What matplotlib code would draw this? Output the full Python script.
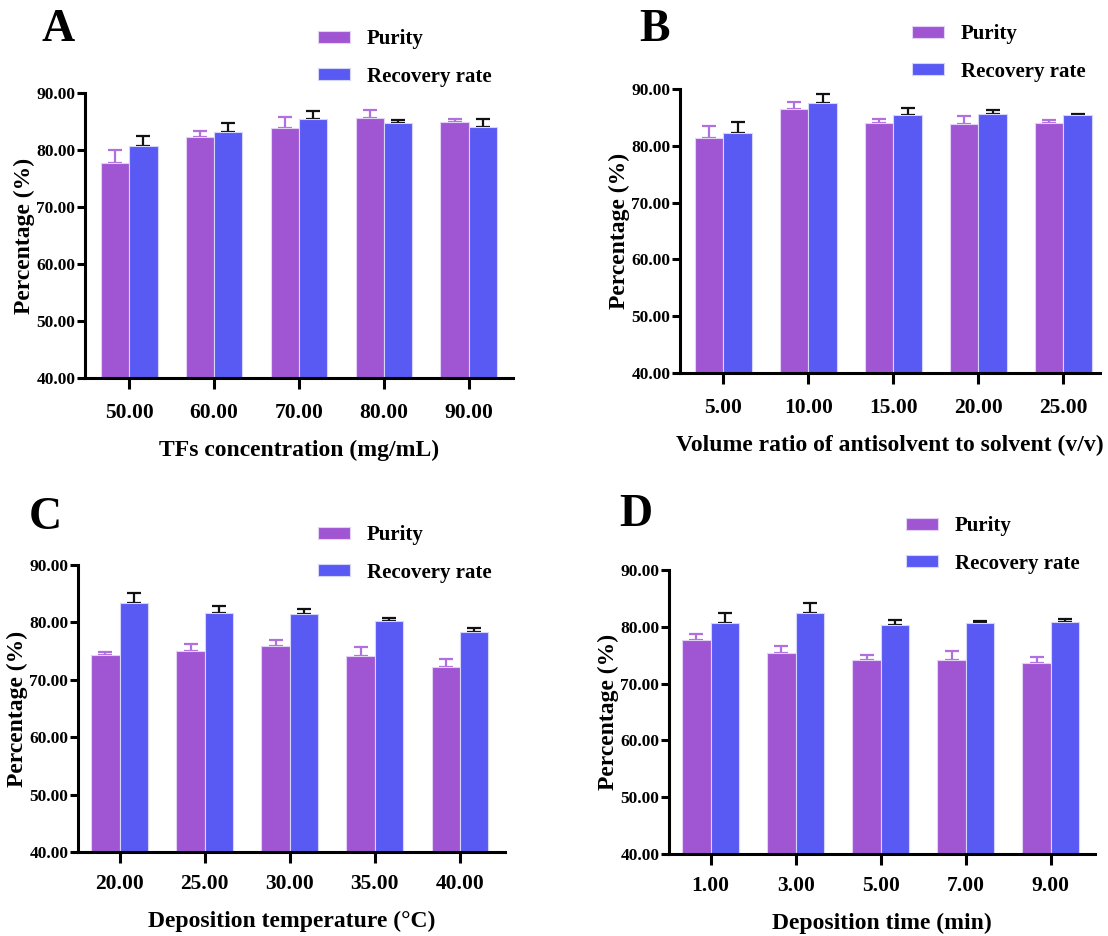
import matplotlib
matplotlib.use("Agg")
import matplotlib.pyplot as plt
import numpy as np

plt.rcParams['font.family'] = ['Liberation Serif', 'DejaVu Serif']
plt.rcParams['font.weight'] = 'bold'

# ---- data ----
a_labels = ["50.00", "60.00", "70.00", "80.00", "90.00"]
a_purity = [77.8, 82.2, 83.8, 85.7, 84.9]
a_purity_err = [2.2, 1.1, 2.0, 1.4, 0.5]
a_recovery = [80.7, 83.2, 85.4, 84.7, 84.0]
a_recovery_err = [1.8, 1.6, 1.5, 0.5, 1.5]

b_labels = ["5.00", "10.00", "15.00", "20.00", "25.00"]
b_purity = [81.3, 86.4, 84.1, 83.9, 84.0]
b_purity_err = [2.1, 1.3, 0.6, 1.35, 0.5]
b_recovery = [82.3, 87.6, 85.5, 85.6, 85.4]
b_recovery_err = [1.9, 1.5, 1.1, 0.65, 0.25]

c_labels = ["20.00", "25.00", "30.00", "35.00", "40.00"]
c_purity = [74.3, 75.1, 75.9, 74.1, 72.2]
c_purity_err = [0.5, 1.1, 0.95, 1.6, 1.4]
c_recovery = [83.4, 81.7, 81.4, 80.2, 78.3]
c_recovery_err = [1.7, 1.2, 0.95, 0.5, 0.7]

d_labels = ["1.00", "3.00", "5.00", "7.00", "9.00"]
d_purity = [77.6, 75.4, 74.1, 74.2, 73.6]
d_purity_err = [1.1, 1.2, 0.95, 1.5, 1.1]
d_recovery = [80.6, 82.4, 80.3, 80.6, 80.9]
d_recovery_err = [1.8, 1.8, 0.9, 0.35, 0.5]

xlabels = ["TFs concentration (mg/mL)",
           "Volume ratio of antisolvent to solvent (v/v)",
           "Deposition temperature (\u00b0C)",
           "Deposition time (min)"]
letters = ["A", "B", "C", "D"]
series_names = ["Purity", "Recovery rate"]

PURPLE = "#A056D3"
BLUE = "#5959F3"
PURPLE_ERR = "#B070E0"

W, H = 1108, 936
fig = plt.figure(figsize=(W / 100, H / 100), dpi=100)

def fr(left, right, top, bottom):
    return [left / W, 1 - bottom / H, (right - left) / W, (bottom - top) / H]

panels = [
    dict(rect=fr(85, 513, 93, 378), xlim=(-0.52, 4.52), labels=a_labels,
         p=a_purity, pe=a_purity_err, r=a_recovery, re=a_recovery_err,
         letter_xy=(58, 30), leg_xy=(318, 29), xtpad=10, xlpad=12),
    dict(rect=fr(680, 1100, 89, 373), xlim=(-0.51, 4.43), labels=b_labels,
         p=b_purity, pe=b_purity_err, r=b_recovery, re=b_recovery_err,
         letter_xy=(655, 30), leg_xy=(912, 24), xtpad=10, xlpad=12),
    dict(rect=fr(78, 505, 565, 852), xlim=(-0.49, 4.53), labels=c_labels,
         p=c_purity, pe=c_purity_err, r=c_recovery, re=c_recovery_err,
         letter_xy=(45, 518), leg_xy=(318, 525), xtpad=8, xlpad=12),
    dict(rect=fr(669, 1095, 570, 854), xlim=(-0.49, 4.52), labels=d_labels,
         p=d_purity, pe=d_purity_err, r=d_recovery, re=d_recovery_err,
         letter_xy=(636, 515), leg_xy=(906, 516), xtpad=8, xlpad=12),
]

bw = 0.334
for i, pn in enumerate(panels):
    ax = fig.add_axes(pn["rect"])
    x = np.arange(len(pn["labels"]))
    h1 = ax.bar(x - bw / 2, pn["p"], width=bw, bottom=0, color=PURPLE,
                edgecolor="#E2D2F6", linewidth=0.8, zorder=2)
    h2 = ax.bar(x + bw / 2, pn["r"], width=bw, bottom=0, color=BLUE,
                edgecolor="#D6D6FA", linewidth=0.8, zorder=2)
    ax.errorbar(x - bw / 2, pn["p"], yerr=[np.zeros(len(x)), pn["pe"]],
                fmt="none", ecolor=PURPLE_ERR, elinewidth=1.6, capsize=5,
                capthick=1.6, zorder=1)
    ax.errorbar(x + bw / 2, pn["r"], yerr=[np.zeros(len(x)), pn["re"]],
                fmt="none", ecolor="#111111", elinewidth=1.6, capsize=5,
                capthick=1.6, zorder=1)
    ax.set_ylim(40, 90)
    ax.set_xlim(*pn["xlim"])
    ax.set_yticks(np.arange(40, 91, 10))
    ax.set_yticklabels([f"{v:.2f}" for v in np.arange(40, 91, 10)],
                       fontsize=12.5, fontweight="bold")
    ax.set_xticks(x)
    ax.set_xticklabels(pn["labels"], fontsize=15.5, fontweight="bold")
    for s in ["top", "right"]:
        ax.spines[s].set_visible(False)
    for s in ["left", "bottom"]:
        ax.spines[s].set_linewidth(2.2)
        ax.spines[s].set_color("black")
    ax.tick_params(axis="y", length=6, width=2.2, pad=1)
    ax.tick_params(axis="x", length=8, width=2.2, pad=pn["xtpad"])
    ax.set_xlabel(xlabels[i], fontsize=17, fontweight="bold", labelpad=pn["xlpad"])
    ax.set_ylabel("Percentage (%)", fontsize=17, fontweight="bold", labelpad=0.5)
    ax.patch.set_alpha(0)
    lx, ly = pn["letter_xy"]
    fig.text(lx / W, 1 - ly / H, letters[i], fontsize=33, fontweight="bold",
             ha="center", va="center")
    gx, gy = pn["leg_xy"]
    ax.legend([h1, h2], series_names, loc="upper left",
              bbox_to_anchor=(gx / W, 1 - gy / H), bbox_transform=fig.transFigure,
              frameon=False, borderpad=0, borderaxespad=0,
              handlelength=1.55, handleheight=0.5, handletextpad=0.8,
              labelspacing=0.85, prop={"weight": "bold", "size": 15})

fig.savefig("out.png", dpi=100)
